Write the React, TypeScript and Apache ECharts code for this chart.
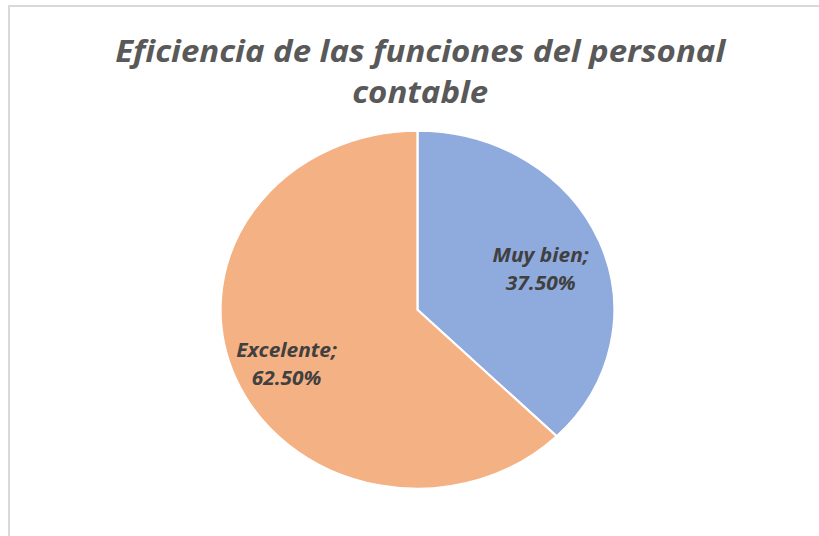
import React, { useEffect, useRef } from "react";
import * as echarts from "echarts";

const titleLines = ["Eficiencia de las funciones del personal", "contable"];
const categories = ["Muy bien", "Excelente"];
const values = [37.5, 62.5];
const colors = ["#8FAADC", "#F4B183"];

const SX = 1.1;
const CHART_W = 764;

export default function App() {
  const ref = useRef<HTMLDivElement>(null);
  useEffect(() => {
    if (!ref.current) return;
    const chart = echarts.init(ref.current, null, { renderer: "svg" });
    const data = categories.map((c, i) => ({ name: c, value: values[i] }));
    chart.setOption({
      animation: false,
      title: {
        text: titleLines.join("\n"),
        left: "center",
        top: 25,
        textStyle: {
          fontFamily: "Open Sans",
          fontSize: 30,
          fontWeight: "bold",
          fontStyle: "italic",
          color: "#595959",
          lineHeight: 41,
        },
      },
      series: [
        {
          type: "pie",
          center: [379.5, 309.7],
          radius: 179,
          startAngle: 90,
          clockwise: true,
          silent: true,
          data: data.map((d, i) => ({ ...d, itemStyle: { color: colors[i] } })),
          itemStyle: { borderColor: "#ffffff", borderWidth: 2 },
          label: { show: false },
          labelLine: { show: false },
        },
        {
          type: "pie",
          center: [376, 316.5],
          radius: 244,
          startAngle: 90,
          clockwise: true,
          silent: true,
          z: 3,
          data: data.map((d) => ({ ...d, itemStyle: { color: "rgba(0,0,0,0)" } })),
          itemStyle: { borderWidth: 0 },
          label: {
            show: true,
            position: "inside",
            formatter: (p: any) => `${p.name};\n${p.value.toFixed(2)}%`,
            fontFamily: "Open Sans",
            fontSize: 19,
            fontWeight: "bold",
            fontStyle: "italic",
            color: "#404040",
            lineHeight: 28,
            align: "center",
          },
          labelLine: { show: false },
        },
      ],
    });
    return () => chart.dispose();
  }, []);
  return (
    <div
      style={{
        position: "fixed",
        left: 0,
        top: 0,
        width: 819,
        height: 536,
        overflow: "hidden",
        background: "#ffffff",
      }}
    >
      <div
        style={{
          position: "absolute",
          left: 8,
          top: 5,
          width: 840,
          height: 580,
          border: "2px solid #d9d9d9",
          boxSizing: "border-box",
        }}
      />
      <div
        ref={ref}
        style={{
          position: "absolute",
          left: 0,
          top: 0,
          width: CHART_W,
          height: 536,
          transform: `scaleX(${SX})`,
          transformOrigin: "0 0",
        }}
      />
    </div>
  );
}
